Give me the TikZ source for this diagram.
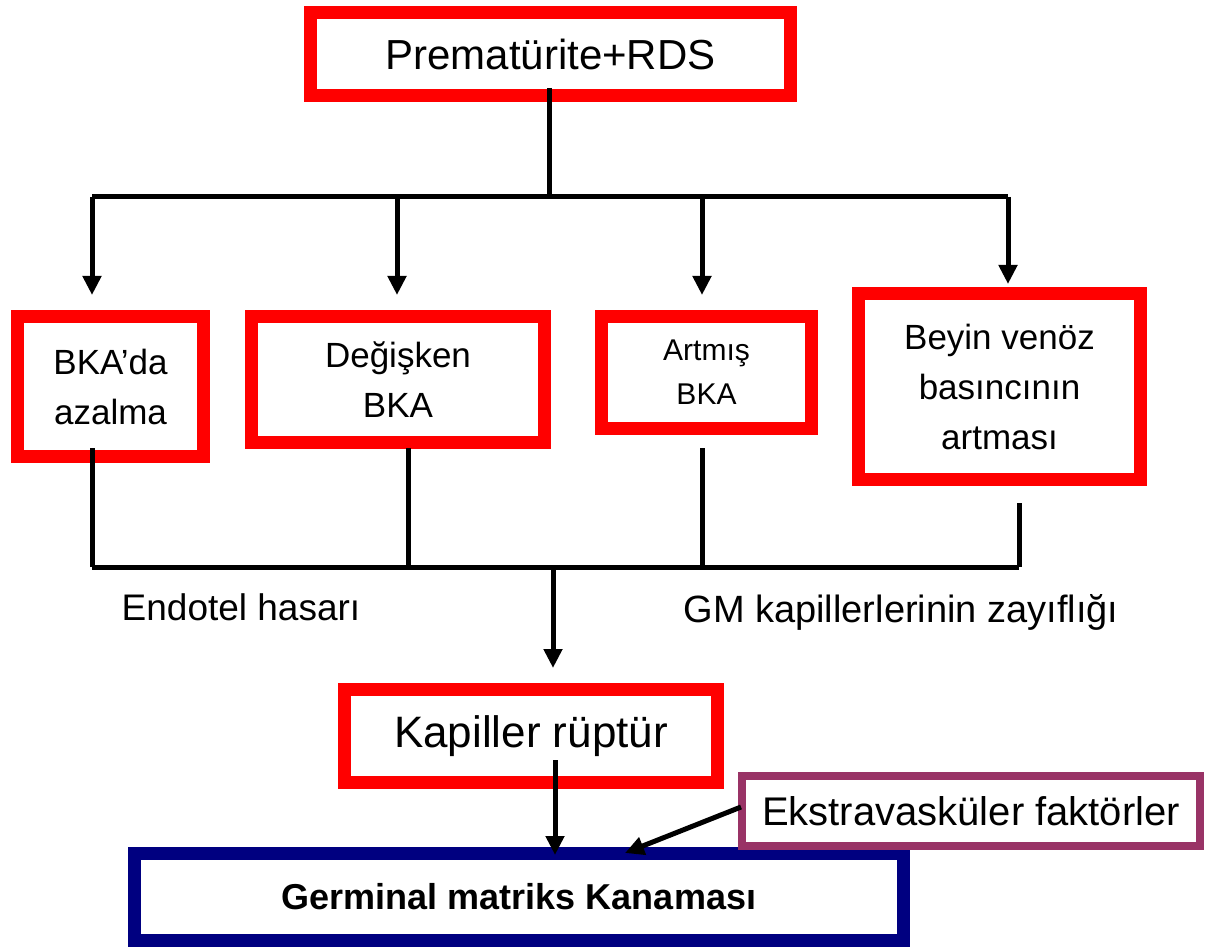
\documentclass[tikz,border=0pt]{standalone}
\usepackage{fontspec}
\setmainfont{Liberation Sans}
\usetikzlibrary{arrows.meta}
\definecolor{boxred}{RGB}{255,0,0}
\definecolor{boxnavy}{RGB}{0,0,128}
\definecolor{boxplum}{RGB}{153,51,102}
\begin{document}
\begin{tikzpicture}[x=1pt,y=-1pt,
 redbox/.style={draw=boxred,line width=13pt,fill=white,align=center,inner sep=0pt},
 conn/.style={draw=black,line width=5pt},
 arr/.style={conn,-{Triangle[length=19pt,width=18pt]}},
 lbl/.style={inner sep=0pt,anchor=base}]
\fill[white] (0,0) rectangle (1205,949);
\useasboundingbox (0,0) rectangle (1205,949);

% boxes
\node[redbox,minimum width=480pt,minimum height=83pt,font=\fontsize{42}{50}\selectfont] (top) at (550.5,54) {Prematürite+RDS};
\node[redbox,minimum width=186pt,minimum height=140pt,font=\fontsize{35}{50}\selectfont] (b1) at (110.5,386.5) {BKA’da\\azalma};
\node[redbox,minimum width=293pt,minimum height=126pt,font=\fontsize{35}{50}\selectfont] (b2) at (398,379.5) {Değişken\\BKA};
\node[redbox,minimum width=210pt,minimum height=112pt,font=\fontsize{30}{44}\selectfont] (b3) at (706.5,372.5) {Artmış\\BKA};
\node[redbox,minimum width=282pt,minimum height=186pt,font=\fontsize{35}{50}\selectfont] (b4) at (999.5,386.5) {Beyin venöz\\basıncının\\artması};
\node[redbox,minimum width=373pt,minimum height=93pt,font=\fontsize{44}{50}\selectfont] (kap) at (531,736) {Kapiller rüptür};
\node[draw=boxnavy,line width=13pt,fill=white,inner sep=0pt,minimum width=769pt,minimum height=87pt,font=\fontsize{36}{44}\bfseries\selectfont] (germ) at (519,897) {Germinal matriks Kanaması};
\node[draw=boxplum,line width=8pt,fill=white,inner sep=0pt,minimum width=458pt,minimum height=70pt,font=\fontsize{40}{48}\selectfont] (ext) at (971,811) {Ekstravasküler faktörler};

% labels
\node[lbl,font=\fontsize{37}{44}\selectfont] (endo) at (241,620) {Endotel hasarı};
\node[lbl,font=\fontsize{38}{44}\selectfont] (gm) at (901,622) {GM kapillerlerinin zayıflığı};

% upper distribution
\coordinate (t0) at (549,88);
\coordinate (tb) at (549,197);
\coordinate (j1) at (92,197);
\coordinate (j2) at (397,197);
\coordinate (j3) at (702,197);
\coordinate (j4) at (1008,197);
\draw[conn] (t0) -- (tb);
\draw[conn] (j1) -- (j4);
\draw[arr,shorten >=15pt] (j1) -- (j1 |- b1.north);
\draw[arr,shorten >=15pt] (j2) -- (j2 |- b2.north);
\draw[arr,shorten >=15pt] (j3) -- (j3 |- b3.north);
\draw[arr,shorten >=3pt] (j4) -- (j4 |- b4.north);

% lower collection
\coordinate (d1) at (92,448);
\coordinate (d2) at (408,448);
\coordinate (d3) at (702,448);
\coordinate (d4) at (1019,503);
\coordinate (e1) at (92,567);
\coordinate (e2) at (408,567);
\coordinate (e3) at (702,567);
\coordinate (e4) at (1019,567);
\coordinate (c0) at (553,567);
\draw[conn] (d1) -- (e1);
\draw[conn] (d2) -- (e2);
\draw[conn] (d3) -- (e3);
\draw[conn] (d4) -- (e4);
\draw[conn] (e1) -- (e4);
\draw[arr,shorten >=15pt] (c0) -- (c0 |- kap.north);

% to germinal
\coordinate (k0) at (555,760);
\draw[arr,shorten >=-8pt] (k0) -- (k0 |- germ.north);
\coordinate (x0) at (741,807);
\coordinate (x1) at (625,853);
\draw[arr] (x0) -- (x1);
\end{tikzpicture}
\end{document}
